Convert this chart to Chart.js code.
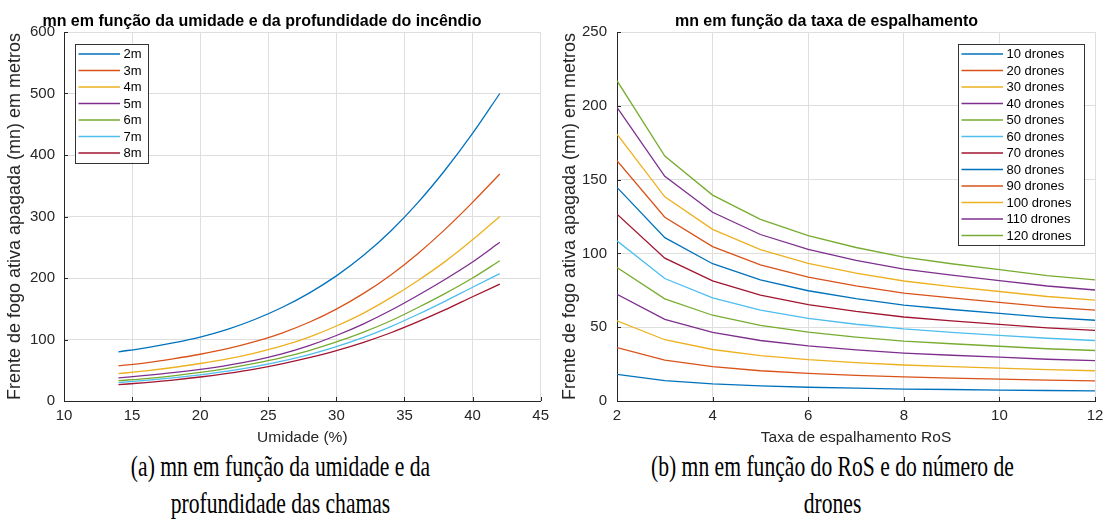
<!DOCTYPE html>
<html>
<head>
<meta charset="utf-8">
<script src="https://cdn.jsdelivr.net/npm/chart.js@4.4.1/dist/chart.umd.min.js"></script>
<style>
  body { margin: 0; background: #fff; width: 1110px; height: 520px; overflow: hidden; position: relative; }
  .box { position: absolute; top: 0; width: 555px; height: 447px; }
  .cap {
    position: absolute; top: 447px; width: 555px; text-align: center;
    font-family: "Liberation Serif", "Times New Roman", serif; font-size: 30px; line-height: 37px;
    color: #000; transform: scaleX(0.72); transform-origin: center top; white-space: nowrap;
  }
</style>
</head>
<body>
<div class="box" style="left:0"><canvas id="chartA" width="555" height="447"></canvas></div>
<div class="box" style="left:555px"><canvas id="chartB" width="555" height="447"></canvas></div>
<div class="cap" style="left:3px">(a) mn em função da umidade e da<br>profundidade das chamas</div>
<div class="cap" style="left:555px">(b) mn em função do RoS e do número de<br>drones</div>
<script>
// --- (a) mn vs umidade, one series per flame depth ---
const umidade = [14, 16, 18, 20, 22, 24, 26, 28, 30, 32, 34, 36, 38, 40, 42];
const profLabels = ['2m', '3m', '4m', '5m', '6m', '7m', '8m'];
const mn2m = [80, 86.5, 94.5, 104, 116.5, 132.5, 152, 175.5, 203.5, 237, 276.5, 323, 376, 435, 500];
const mn3m = [57, 62, 68.5, 76, 85, 96.5, 110.5, 128, 149.5, 175, 205, 240, 279.5, 323, 369];
const mn4m = [44.5, 49, 54.5, 61, 68.5, 78, 89.5, 104, 122, 143, 168, 196, 227, 262, 300];
const mn5m = [37.5, 41.5, 46, 51.5, 58, 66, 76.5, 90, 106.5, 125.5, 147.5, 172, 198, 226, 258];
const mn6m = [33, 36.5, 41, 46.5, 53, 61, 70.5, 82, 96, 112, 130.5, 152, 175, 200, 228];
const mn7m = [30, 33.5, 37.5, 42.5, 48.5, 56, 65, 75.5, 88.5, 103.5, 121, 141, 162.5, 185, 207];
const mn8m = [26.5, 30, 34, 39, 45, 52, 60.5, 70.5, 82, 95.5, 111, 129, 148.5, 169.5, 190];
const umidadeTicks = [10, 15, 20, 25, 30, 35, 40, 45];
const mnTicksA = [0, 100, 200, 300, 400, 500, 600];

// --- (b) mn vs RoS, one series per number of drones ---
const ros = [2, 3, 4, 5, 6, 7, 8, 9, 10, 11, 12];
const droneLabels = ['10 drones', '20 drones', '30 drones', '40 drones', '50 drones', '60 drones',
  '70 drones', '80 drones', '90 drones', '100 drones', '110 drones', '120 drones'];
const d10 = [18.1, 13.8, 11.6, 10.3, 9.3, 8.7, 8.1, 7.8, 7.4, 7.1, 6.8];
const d20 = [36.2, 27.7, 23.3, 20.5, 18.7, 17.3, 16.3, 15.5, 14.8, 14.2, 13.7];
const d30 = [54.3, 41.5, 34.9, 30.8, 28, 26, 24.4, 23.3, 22.3, 21.3, 20.5];
const d40 = [72.3, 55.3, 46.5, 41, 37.3, 34.7, 32.5, 31, 29.7, 28.3, 27.3];
const d50 = [90.4, 69.2, 58.1, 51.3, 46.7, 43.3, 40.6, 38.8, 37.1, 35.4, 34.2];
const d60 = [108.5, 83, 69.8, 61.5, 56, 52, 48.8, 46.5, 44.5, 42.5, 41];
const d70 = [126.6, 96.8, 81.4, 71.8, 65.3, 60.7, 56.9, 54.3, 51.9, 49.6, 47.8];
const d80 = [144.7, 110.7, 93, 82, 74.7, 69.3, 65, 62, 59.3, 56.7, 54.7];
const d90 = [162.8, 124.5, 104.6, 92.3, 84, 78, 73.1, 69.8, 66.8, 63.8, 61.5];
const d100 = [180.8, 138.3, 116.3, 102.5, 93.3, 86.7, 81.3, 77.5, 74.2, 70.8, 68.3];
const d110 = [198.9, 152.2, 127.9, 112.8, 102.7, 95.3, 89.4, 85.3, 81.6, 77.9, 75.2];
const d120 = [217, 166, 139.5, 123, 112, 104, 97.5, 93, 89, 85, 82];
const rosTicks = [2, 4, 6, 8, 10, 12];
const mnTicksB = [0, 50, 100, 150, 200, 250];

const matlabColors = ['#0072BD', '#D95319', '#EDB120', '#7E2F8E', '#77AC30', '#4DBEEE', '#A2142F'];
const FONT = '"Liberation Sans", Arial, Helvetica, sans-serif';
const INK = '#262626';

function toPoints(xs, ys) {
  return xs.map((x, i) => ({ x: x, y: ys[i] }));
}

function makeDatasets(xs, seriesList, labels, smooth) {
  return seriesList.map((ys, i) => ({
    label: labels[i],
    data: toPoints(xs, ys),
    borderColor: matlabColors[i % matlabColors.length],
    backgroundColor: matlabColors[i % matlabColors.length],
    borderWidth: 1.3,
    pointRadius: 0,
    fill: false,
    tension: smooth ? 0.4 : 0,
    cubicInterpolationMode: smooth ? 'monotone' : 'default',
  }));
}

// title, inward tick marks and MATLAB-style legend box
const matlabDecor = {
  id: 'matlabDecor',
  afterDraw(chart, args, opts) {
    const { ctx, chartArea } = chart;
    const xs = chart.scales.x, ys = chart.scales.y;
    ctx.save();

    // inward ticks
    ctx.strokeStyle = INK;
    ctx.lineWidth = 1;
    ctx.beginPath();
    xs.ticks.forEach(t => {
      const px = Math.round(xs.getPixelForValue(t.value)) + 0.5;
      ctx.moveTo(px, chartArea.bottom);
      ctx.lineTo(px, chartArea.bottom - 4);
    });
    ys.ticks.forEach(t => {
      const py = Math.round(ys.getPixelForValue(t.value)) + 0.5;
      ctx.moveTo(chartArea.left, py);
      ctx.lineTo(chartArea.left + 4, py);
    });
    ctx.stroke();

    // title
    ctx.fillStyle = '#000';
    ctx.font = 'bold 16px ' + FONT;
    ctx.textAlign = 'center';
    ctx.textBaseline = 'alphabetic';
    ctx.fillText(opts.title, opts.titleX, 25.5);

    // legend
    const items = chart.data.datasets;
    const rowH = 16.5;
    const boxW = opts.legendWidth;
    const boxH = items.length * rowH + 3;
    const boxX = opts.legendSide === 'left' ? chartArea.left + 11 : chartArea.right - 11 - boxW;
    const boxY = chartArea.top + 11.5;
    ctx.fillStyle = '#fff';
    ctx.fillRect(boxX, boxY, boxW, boxH);
    ctx.strokeStyle = '#333';
    ctx.lineWidth = 1;
    ctx.strokeRect(Math.round(boxX) + 0.5, Math.round(boxY) + 0.5, Math.round(boxW), Math.round(boxH));
    ctx.font = '13px ' + FONT;
    ctx.textAlign = 'left';
    ctx.textBaseline = 'middle';
    items.forEach((ds, i) => {
      const cy = boxY + 10.5 + i * rowH;
      ctx.strokeStyle = ds.borderColor;
      ctx.lineWidth = 1.3;
      ctx.beginPath();
      ctx.moveTo(boxX + 3.5, cy);
      ctx.lineTo(boxX + 45, cy);
      ctx.stroke();
      ctx.fillStyle = '#000';
      ctx.fillText(ds.label, boxX + 48.5, cy + 0.5);
    });
    ctx.restore();
  }
};

function axisOptions(cfg) {
  const grid = { color: '#dedede', lineWidth: 1, drawTicks: false };
  return {
    x: {
      type: 'linear', min: cfg.xTicks[0], max: cfg.xTicks[cfg.xTicks.length - 1],
      afterBuildTicks: s => { s.ticks = cfg.xTicks.map(v => ({ value: v })); },
      afterFit: s => { s.height = 46; },
      grid: grid,
      border: { display: true, color: INK, width: 1 },
      ticks: { color: INK, font: { family: FONT, size: 15 }, padding: 6, maxRotation: 0, autoSkip: false },
      title: { display: true, text: cfg.xTitle, color: INK, font: { family: FONT, size: 15.5 }, padding: { top: 0, bottom: 0 } },
    },
    y: {
      type: 'linear', min: cfg.yTicks[0], max: cfg.yTicks[cfg.yTicks.length - 1],
      afterBuildTicks: s => { s.ticks = cfg.yTicks.map(v => ({ value: v })); },
      afterFit: s => { s.width = cfg.yWidth; },
      grid: grid,
      border: { display: true, color: INK, width: 1 },
      ticks: { color: INK, font: { family: FONT, size: 15 }, padding: cfg.yPad, autoSkip: false },
      title: { display: true, text: 'Frente de fogo ativa apagada (mn) em metros', color: INK,
        font: { family: FONT, size: 18 }, padding: { top: 4.5, bottom: 0 } },
    },
  };
}

new Chart(document.getElementById('chartA'), {
  type: 'line',
  data: { datasets: makeDatasets(umidade, [mn2m, mn3m, mn4m, mn5m, mn6m, mn7m, mn8m], profLabels, true) },
  options: {
    responsive: false,
    animation: false,
    layout: { padding: { top: 32, right: 12, left: 0, bottom: 0 } },
    scales: axisOptions({ xTicks: umidadeTicks, yTicks: mnTicksA, xTitle: 'Umidade (%)', yWidth: 64, yPad: 9 }),
    plugins: {
      legend: { display: false },
      tooltip: { enabled: false },
      matlabDecor: { title: 'mn em função da umidade e da profundidade do incêndio', titleX: 262, legendSide: 'left', legendWidth: 73 },
    },
  },
  plugins: [matlabDecor],
});

new Chart(document.getElementById('chartB'), {
  type: 'line',
  data: { datasets: makeDatasets(ros, [d10, d20, d30, d40, d50, d60, d70, d80, d90, d100, d110, d120], droneLabels, false) },
  options: {
    responsive: false,
    animation: false,
    layout: { padding: { top: 32, right: 15, left: 0, bottom: 0 } },
    scales: axisOptions({ xTicks: rosTicks, yTicks: mnTicksB, xTitle: 'Taxa de espalhamento RoS', yWidth: 62, yPad: 10 }),
    plugins: {
      legend: { display: false },
      tooltip: { enabled: false },
      matlabDecor: { title: 'mn em função da taxa de espalhamento', titleX: 271.5, legendSide: 'right', legendWidth: 126 },
    },
  },
  plugins: [matlabDecor],
});
</script>
</body>
</html>
